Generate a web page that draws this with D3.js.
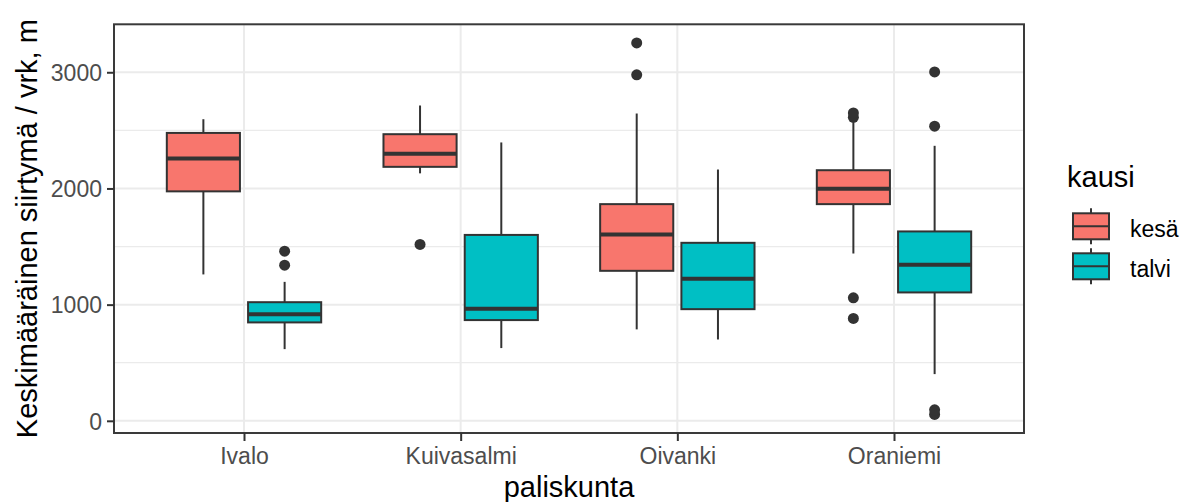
<!DOCTYPE html>
<html>
<head>
<meta charset="utf-8">
<script src="https://cdn.jsdelivr.net/npm/d3@7/dist/d3.min.js"></script>
<style>
  html, body { margin: 0; padding: 0; background: #fff; }
  svg { display: block; font-family: "Liberation Sans", Arial, sans-serif; }
</style>
</head>
<body>
<svg id="chart" width="1180" height="502"></svg>
<script>
// Reindeer herding districts and seasons
const categories = ["Ivalo", "Kuivasalmi", "Oivanki", "Oraniemi"];
const seasons = ["kesä", "talvi"];
const seasonColors = ["#F8766D", "#00BFC4"];

// Box statistics per district: [lower whisker, Q1, median, Q3, upper whisker]
const kesaStats = [
  [1260, 1975, 2258, 2478, 2596],
  [2130, 2186, 2298, 2467, 2714],
  [787, 1291, 1603, 1865, 2645],
  [1440, 1865, 1997, 2157, 2590]
];
const talviStats = [
  [617, 847, 918, 1021, 1196],
  [626, 867, 964, 1600, 2396],
  [700, 961, 1222, 1532, 2163],
  [402, 1105, 1343, 1630, 2367]
];

// Outlying observations per district
const kesaOutliers = [
  [],
  [1518],
  [2978, 3253],
  [881, 1059, 2612, 2650]
];
const talviOutliers = [
  [1340, 1460],
  [],
  [],
  [55, 95, 2536, 3003]
];

const yTicks = [0, 1000, 2000, 3000];
const yMinorTicks = [500, 1500, 2500];

const yTitle = "Keskimääräinen siirtymä / vrk, m";
const xTitle = "paliskunta";
const legendTitle = "kausi";

// ---- layout ----
const panel = { left: 114, right: 1024, top: 24.3, bottom: 433 };
const ink = "#333333";
const tickText = "#4D4D4D";

const svg = d3.select("#chart");

const allStats = kesaStats.concat(talviStats);
const allOutliers = kesaOutliers.concat(talviOutliers).flat();
const dataMin = d3.min([d3.min(allStats, d => d[0]), d3.min(allOutliers)]);
const dataMax = d3.max([d3.max(allStats, d => d[4]), d3.max(allOutliers)]);
const pad = (dataMax - dataMin) * 0.05;

const y = d3.scaleLinear()
  .domain([dataMin - pad, dataMax + pad])
  .range([panel.bottom, panel.top]);

const x = d3.scalePoint()
  .domain(categories)
  .range([panel.left, panel.right])
  .padding(0.6);

const step = x.step();
const dodge = 0.1875 * step;
const boxW = 0.3375 * step;

// panel background
svg.append("rect")
  .attr("x", panel.left).attr("y", panel.top)
  .attr("width", panel.right - panel.left)
  .attr("height", panel.bottom - panel.top)
  .attr("fill", "#fff");

const grid = svg.append("g");
grid.selectAll("line.minor").data(yMinorTicks).join("line")
  .attr("class", "minor")
  .attr("x1", panel.left).attr("x2", panel.right)
  .attr("y1", d => y(d)).attr("y2", d => y(d))
  .attr("stroke", "#EBEBEB").attr("stroke-width", 1.3);
grid.selectAll("line.major").data(yTicks).join("line")
  .attr("class", "major")
  .attr("x1", panel.left).attr("x2", panel.right)
  .attr("y1", d => y(d)).attr("y2", d => y(d))
  .attr("stroke", "#EBEBEB").attr("stroke-width", 2);
grid.selectAll("line.vmajor").data(categories).join("line")
  .attr("class", "vmajor")
  .attr("x1", d => x(d)).attr("x2", d => x(d))
  .attr("y1", panel.top).attr("y2", panel.bottom)
  .attr("stroke", "#EBEBEB").attr("stroke-width", 2);

// boxes
const series = [
  { stats: kesaStats, outliers: kesaOutliers, color: seasonColors[0], offset: -dodge },
  { stats: talviStats, outliers: talviOutliers, color: seasonColors[1], offset: dodge }
];

const boxes = svg.append("g");
series.forEach(s => {
  categories.forEach((cat, i) => {
    const [lo, q1, med, q3, hi] = s.stats[i];
    const cx = x(cat) + s.offset;
    const g = boxes.append("g");
    g.append("line")
      .attr("x1", cx).attr("x2", cx)
      .attr("y1", y(hi)).attr("y2", y(q3))
      .attr("stroke", ink).attr("stroke-width", 2);
    g.append("line")
      .attr("x1", cx).attr("x2", cx)
      .attr("y1", y(q1)).attr("y2", y(lo))
      .attr("stroke", ink).attr("stroke-width", 2);
    g.append("rect")
      .attr("x", cx - boxW / 2).attr("y", y(q3))
      .attr("width", boxW).attr("height", y(q1) - y(q3))
      .attr("fill", s.color)
      .attr("stroke", ink).attr("stroke-width", 2);
    g.append("line")
      .attr("x1", cx - boxW / 2).attr("x2", cx + boxW / 2)
      .attr("y1", y(med)).attr("y2", y(med))
      .attr("stroke", ink).attr("stroke-width", 4);
    g.selectAll("circle").data(s.outliers[i]).join("circle")
      .attr("cx", cx).attr("cy", d => y(d)).attr("r", 5.5)
      .attr("fill", ink);
  });
});

// panel border
svg.append("rect")
  .attr("x", panel.left).attr("y", panel.top)
  .attr("width", panel.right - panel.left)
  .attr("height", panel.bottom - panel.top)
  .attr("fill", "none").attr("stroke", "#3a3a3a").attr("stroke-width", 2);

// axes
const yAxis = d3.axisLeft(y).tickValues(yTicks).tickSize(7).tickPadding(5).tickFormat(d3.format("d"));
const yG = svg.append("g").attr("transform", `translate(${panel.left},0)`).call(yAxis);
const xAxis = d3.axisBottom(x).tickSize(8).tickPadding(6);
const xG = svg.append("g").attr("transform", `translate(0,${panel.bottom})`).call(xAxis);
[yG, xG].forEach(g => {
  g.select(".domain").remove();
  g.selectAll(".tick line").attr("stroke", ink).attr("stroke-width", 2);
  g.selectAll(".tick text")
    .attr("fill", tickText)
    .style("font-size", "23px")
    .style("font-family", '"Liberation Sans", Arial, sans-serif');
});
yG.selectAll(".tick text").attr("dy", "0.36em");
xG.selectAll(".tick text").attr("dy", "0.76em");

// axis titles
svg.append("text")
  .attr("transform", `translate(37,${(panel.top + panel.bottom) / 2}) rotate(-90)`)
  .attr("text-anchor", "middle")
  .attr("fill", "#000")
  .style("font-size", "29px")
  .text(yTitle);

svg.append("text")
  .attr("x", (panel.left + panel.right) / 2)
  .attr("y", 496.5)
  .attr("text-anchor", "middle")
  .attr("fill", "#000")
  .style("font-size", "29px")
  .text(xTitle);

// legend
const legend = svg.append("g");
legend.append("text")
  .attr("x", 1067).attr("y", 186.5)
  .attr("fill", "#000")
  .style("font-size", "29px")
  .text(legendTitle);

seasons.forEach((name, i) => {
  const cy = 226.3 + i * 40;
  const kx = 1091;
  const kw = 36, kh = 26;
  const g = legend.append("g");
  g.append("line")
    .attr("x1", kx).attr("x2", kx)
    .attr("y1", cy - 18).attr("y2", cy + 18)
    .attr("stroke", ink).attr("stroke-width", 2);
  g.append("rect")
    .attr("x", kx - kw / 2).attr("y", cy - kh / 2)
    .attr("width", kw).attr("height", kh)
    .attr("fill", seasonColors[i])
    .attr("stroke", ink).attr("stroke-width", 2);
  g.append("line")
    .attr("x1", kx - kw / 2).attr("x2", kx + kw / 2)
    .attr("y1", cy).attr("y2", cy)
    .attr("stroke", ink).attr("stroke-width", 2);
  g.append("text")
    .attr("x", 1130).attr("y", cy + 10.5)
    .attr("fill", "#000")
    .style("font-size", "23px")
    .text(name);
});
</script>
</body>
</html>
